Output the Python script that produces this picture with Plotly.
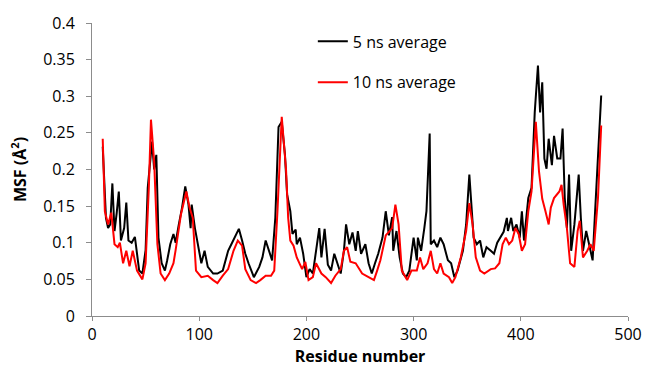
import plotly.graph_objects as go

# 5 ns average (black)
res_5ns = [10, 12, 13, 15, 17, 19, 21, 23, 25, 27, 30, 32, 34, 37, 40, 44, 47, 50, 52, 56,
           58, 60, 62, 65, 68, 70, 73, 76, 78, 81, 84, 87, 90, 92, 93, 96, 99, 102, 105, 108,
           113, 117, 122, 127, 130, 133, 137, 140, 143, 146, 151, 156, 159, 162, 165, 168, 171, 174, 177, 180,
           182, 185, 187, 190, 191, 194, 197, 200, 203, 206, 209, 212, 214, 217, 220, 223, 226, 229, 232, 235,
           237, 240, 243, 246, 248, 251, 255, 258, 261, 264, 267, 271, 274, 277, 280, 281, 284, 287, 290, 293,
           296, 300, 303, 304, 307, 310, 312, 315, 316, 319, 322, 325, 328, 332, 335, 338, 341, 346, 349, 352,
           354, 356, 359, 362, 365, 368, 372, 375, 378, 381, 384, 387, 388, 391, 393, 396, 399, 401, 403, 407,
           410, 413, 416, 418, 420, 422, 424, 426, 429, 431, 434, 437, 439, 441, 443, 445, 447, 450, 454, 456,
           458, 461, 464, 467, 469, 472, 475]
msf_5ns = [0.231, 0.166, 0.134, 0.12, 0.125, 0.181, 0.116, 0.14, 0.17, 0.103, 0.12, 0.155, 0.103, 0.1, 0.108, 0.062, 0.058, 0.09, 0.175, 0.238,
           0.2, 0.22, 0.107, 0.072, 0.062, 0.075, 0.098, 0.112, 0.1, 0.125, 0.148, 0.177, 0.152, 0.12, 0.152, 0.12, 0.098, 0.072, 0.089, 0.067,
           0.058, 0.058, 0.062, 0.089, 0.098, 0.107, 0.119, 0.103, 0.085, 0.072, 0.053, 0.067, 0.08, 0.103, 0.089, 0.076, 0.134, 0.258, 0.265, 0.22,
           0.166, 0.143, 0.112, 0.118, 0.098, 0.107, 0.085, 0.053, 0.064, 0.058, 0.089, 0.12, 0.08, 0.119, 0.07, 0.062, 0.085, 0.072, 0.058, 0.089,
           0.125, 0.098, 0.114, 0.089, 0.116, 0.085, 0.098, 0.072, 0.058, 0.072, 0.085, 0.107, 0.143, 0.11, 0.135, 0.089, 0.116, 0.08, 0.058, 0.053,
           0.062, 0.107, 0.076, 0.107, 0.089, 0.12, 0.143, 0.249, 0.098, 0.103, 0.094, 0.107, 0.098, 0.076, 0.072, 0.053, 0.062, 0.089, 0.125, 0.193,
           0.143, 0.107, 0.098, 0.103, 0.08, 0.094, 0.089, 0.085, 0.1, 0.107, 0.115, 0.134, 0.116, 0.134, 0.116, 0.125, 0.107, 0.143, 0.103, 0.161,
           0.175, 0.278, 0.342, 0.278, 0.319, 0.215, 0.201, 0.242, 0.206, 0.246, 0.215, 0.215, 0.256, 0.161, 0.12, 0.193, 0.089, 0.125, 0.193, 0.134,
           0.089, 0.116, 0.098, 0.076, 0.134, 0.215, 0.301]

# 10 ns average (red)
res_10ns = [10, 12, 15, 18, 21, 24, 26, 29, 32, 35, 38, 42, 47, 50, 53, 55, 58, 61, 64, 68,
            72, 76, 78, 83, 88, 91, 94, 97, 102, 108, 113, 117, 122, 127, 132, 136, 140, 143, 148, 153,
            157, 162, 167, 170, 173, 177, 181, 183, 185, 188, 191, 196, 199, 202, 206, 209, 214, 218, 223, 227,
            232, 235, 238, 241, 246, 252, 258, 263, 266, 269, 274, 278, 280, 283, 286, 289, 294, 298, 303, 306,
            309, 313, 316, 319, 322, 325, 328, 333, 336, 339, 344, 349, 352, 355, 358, 362, 366, 372, 376, 380,
            383, 386, 389, 392, 395, 398, 401, 404, 407, 410, 414, 417, 420, 423, 426, 428, 431, 436, 438, 440,
            443, 446, 450, 453, 455, 458, 462, 465, 468, 472, 475]
msf_10ns = [0.242, 0.143, 0.125, 0.141, 0.098, 0.094, 0.1, 0.072, 0.089, 0.068, 0.089, 0.062, 0.05, 0.072, 0.175, 0.268, 0.21, 0.098, 0.058, 0.049,
            0.058, 0.072, 0.09, 0.139, 0.17, 0.148, 0.134, 0.062, 0.053, 0.055, 0.049, 0.045, 0.055, 0.064, 0.089, 0.103, 0.096, 0.064, 0.049, 0.045,
            0.049, 0.055, 0.055, 0.062, 0.143, 0.272, 0.2, 0.134, 0.103, 0.096, 0.08, 0.064, 0.074, 0.049, 0.053, 0.072, 0.058, 0.053, 0.045, 0.055,
            0.064, 0.089, 0.094, 0.074, 0.072, 0.058, 0.053, 0.049, 0.062, 0.076, 0.11, 0.116, 0.12, 0.152, 0.125, 0.062, 0.049, 0.062, 0.062, 0.08,
            0.064, 0.072, 0.089, 0.064, 0.058, 0.072, 0.058, 0.053, 0.045, 0.053, 0.08, 0.116, 0.154, 0.125, 0.08, 0.062, 0.058, 0.064, 0.065, 0.072,
            0.098, 0.107, 0.098, 0.103, 0.12, 0.112, 0.089, 0.098, 0.143, 0.17, 0.265, 0.197, 0.16, 0.143, 0.125, 0.148, 0.161, 0.17, 0.179, 0.152,
            0.12, 0.072, 0.067, 0.116, 0.13, 0.08, 0.089, 0.098, 0.089, 0.161, 0.26]

x_ticks = [0, 100, 200, 300, 400, 500]
y_ticks = [0, 0.05, 0.1, 0.15, 0.2, 0.25, 0.3, 0.35, 0.4]
y_tick_text = ["0", "0.05", "0.1", "0.15", "0.2", "0.25", "0.3", "0.35", "0.4"]

FONT = "Open Sans"
AXIS_COLOR = "#8c8c8c"

fig = go.Figure()
fig.add_trace(go.Scatter(x=res_5ns, y=msf_5ns, mode="lines", name="5 ns average",
                         line=dict(color="black", width=2), legendgroup="a"))
fig.add_trace(go.Scatter(x=res_10ns, y=msf_10ns, mode="lines", name="10 ns average",
                         line=dict(color="#ff0000", width=2), legendgroup="b"))

fig.update_layout(
    width=654, height=380,
    margin=dict(l=92, r=12, t=20, b=64),
    paper_bgcolor="white", plot_bgcolor="white",
    font=dict(family=FONT, size=16, color="black"),
    showlegend=True,
    legend=dict(x=0.412, y=0.995, xanchor="left", yanchor="top",
                bgcolor="rgba(0,0,0,0)", font=dict(size=16, family=FONT),
                tracegroupgap=17, traceorder="grouped"),
    xaxis=dict(range=[0, 500], tickvals=x_ticks, showgrid=False, zeroline=False,
               showline=True, linecolor=AXIS_COLOR, linewidth=1,
               ticks="outside", tickcolor=AXIS_COLOR, ticklen=4, ticklabeloverflow="allow",
               tickfont=dict(size=16, family=FONT),
               title=dict(text="<b>Residue number</b>", font=dict(size=16, family=FONT), standoff=0)),
    yaxis=dict(range=[0, 0.4], tickvals=y_ticks, ticktext=y_tick_text, showgrid=False, zeroline=False,
               showline=True, linecolor=AXIS_COLOR, linewidth=1,
               ticks="outside", tickcolor=AXIS_COLOR, ticklen=5, ticklabelstandoff=8,
               tickfont=dict(size=16, family=FONT),
               title=dict(text="<b>MSF (Å<sup>2</sup>)</b>", font=dict(size=16, family=FONT), standoff=12)),
)

fig.write_html("out.html")
